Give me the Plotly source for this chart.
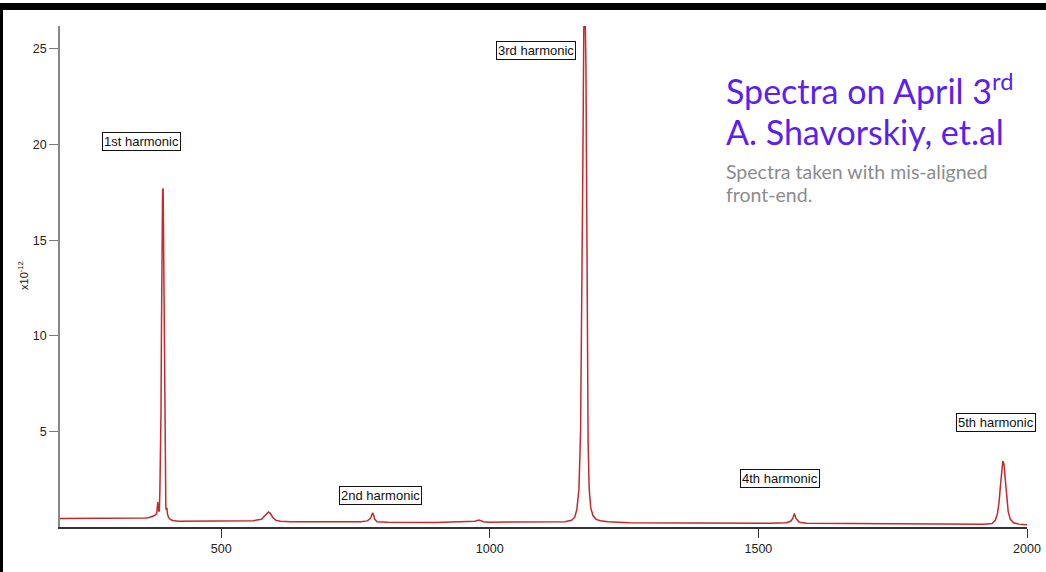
import plotly.graph_objects as go

# Spectrum samples (frequency, amplitude in units of 1e-12)
freq = [200, 300, 360, 366, 372, 376, 380, 382, 384, 385, 386, 388, 389, 390, 391, 392, 393, 394, 395, 396,
        397, 398, 399, 400, 402, 405, 410, 420, 440, 500, 560, 575, 582, 588, 592, 596, 602, 610, 630,
        660, 665, 670, 720, 760, 772, 778, 782, 784, 786, 790, 796, 810, 900, 960, 972, 980, 988, 1000,
        1100, 1140, 1152, 1158, 1162, 1166, 1169, 1171, 1173, 1175, 1177, 1179, 1181, 1183, 1185, 1188,
        1192, 1198, 1206, 1220, 1260, 1400, 1520, 1552, 1560, 1564, 1567, 1570, 1576, 1590, 1700, 1850,
        1920, 1935, 1941, 1945, 1948, 1951, 1953, 1955, 1957, 1959, 1962, 1965, 1969, 1975, 1985, 2000]
amp = [0.45, 0.45, 0.47, 0.5, 0.55, 0.6, 0.7, 1.3, 0.8, 0.9, 2.0, 6.0, 11.0, 15.5, 17.6, 17.7, 14.0, 8.0, 3.5, 1.6,
       1.0, 0.9, 1.0, 0.7, 0.5, 0.4, 0.34, 0.3, 0.3, 0.32, 0.33, 0.4, 0.6, 0.78, 0.7, 0.5, 0.35, 0.3, 0.28,
       0.27, 0.3, 0.27, 0.27, 0.28, 0.32, 0.45, 0.74, 0.6, 0.4, 0.28, 0.26, 0.25, 0.24, 0.26, 0.3, 0.36, 0.28, 0.25,
       0.26, 0.28, 0.35, 0.5, 0.9, 2.0, 5.0, 10.0, 18.0, 26.0, 28.0, 24.0, 12.0, 4.5, 2.0, 1.0,
       0.6, 0.4, 0.33, 0.27, 0.22, 0.2, 0.2, 0.22, 0.3, 0.45, 0.7, 0.45, 0.25, 0.2, 0.17, 0.14,
       0.14, 0.18, 0.35, 0.7, 1.3, 2.3, 3.0, 3.45, 3.3, 2.6, 1.5, 0.8, 0.4, 0.22, 0.15, 0.12]

harm_labels = ["1st harmonic", "2nd harmonic", "3rd harmonic", "4th harmonic", "5th harmonic"]
harm_x = [351, 796, 1086, 1540, 1942]
harm_y = [20.15, 1.67, 24.9, 2.55, 5.47]

y_ticks = [5, 10, 15, 20, 25]
x_ticks = [500, 1000, 1500, 2000]

fig = go.Figure()
fig.add_trace(go.Scatter(x=freq, y=amp, mode="lines",
                         line=dict(color="#c22a2e", width=1.5), showlegend=False,
                         hoverinfo="skip"))

for t, hx, hy in zip(harm_labels, harm_x, harm_y):
    fig.add_annotation(x=hx, y=hy, xref="x", yref="y", text=t, showarrow=False,
                       font=dict(family="Liberation Sans, Arial", size=13, color="#111"),
                       bgcolor="white", bordercolor="#111", borderwidth=1, borderpad=1)

# Title block
fig.add_annotation(x=0.687, y=0.874, xref="paper", yref="paper", xanchor="left", yanchor="middle",
                   text="Spectra on April 3<sup>rd</sup>", showarrow=False,
                   font=dict(family="Lato", size=34, color="#5b1ff2"))
fig.add_annotation(x=0.687, y=0.789, xref="paper", yref="paper", xanchor="left", yanchor="middle",
                   text="A. Shavorskiy, et.al", showarrow=False,
                   font=dict(family="Lato", size=34, color="#5b1ff2"))
fig.add_annotation(x=0.687, y=0.709, xref="paper", yref="paper", xanchor="left", yanchor="middle",
                   text="Spectra taken with mis-aligned", showarrow=False,
                   font=dict(family="Lato", size=19.5, color="#8c8c8c"))
fig.add_annotation(x=0.687, y=0.663, xref="paper", yref="paper", xanchor="left", yanchor="middle",
                   text="front-end.", showarrow=False,
                   font=dict(family="Lato", size=19.5, color="#8c8c8c"))

# y-axis exponent label
fig.add_annotation(x=-0.0476, y=0.503, xref="paper", yref="paper", text="x10<sup>-12</sup>",
                   textangle=-90, showarrow=False,
                   font=dict(family="Liberation Sans, Arial", size=11, color="#111"))

# black top band of the slide frame
fig.add_shape(type="rect", xref="paper", yref="paper", x0=-0.08, x1=1.05, y0=1.032, y1=1.046,
              fillcolor="black", line_width=0)

fig.update_layout(
    width=1046, height=572,
    margin=dict(l=60, r=19, t=26, b=45),
    paper_bgcolor="white", plot_bgcolor="white",
    xaxis=dict(range=[200, 2000], tickvals=x_ticks, ticks="outside", ticklen=9, tickcolor="#333",
               showgrid=False, zeroline=False, showline=True, linecolor="#333", linewidth=1.5,
               automargin=False,
               tickfont=dict(family="Liberation Sans, Arial", size=12.5, color="#222")),
    yaxis=dict(range=[0, 26.2], tickvals=y_ticks, ticks="outside", ticklen=9, tickcolor="#777",
               showgrid=False, zeroline=False, showline=True, linecolor="#888", linewidth=1.5,
               automargin=False,
               tickfont=dict(family="Liberation Sans, Arial", size=12.5, color="#222")),
)

post = (
    "document.body.style.margin='0';document.body.style.overflow='hidden';"
    "var b=document.createElement('div');"
    "b.style.cssText='position:fixed;left:0;top:4px;width:3px;height:100%;background:#000;z-index:1000;pointer-events:none';"
    "document.body.appendChild(b);"
)
fig.write_html("out.html", config={"displayModeBar": False}, post_script=post)
